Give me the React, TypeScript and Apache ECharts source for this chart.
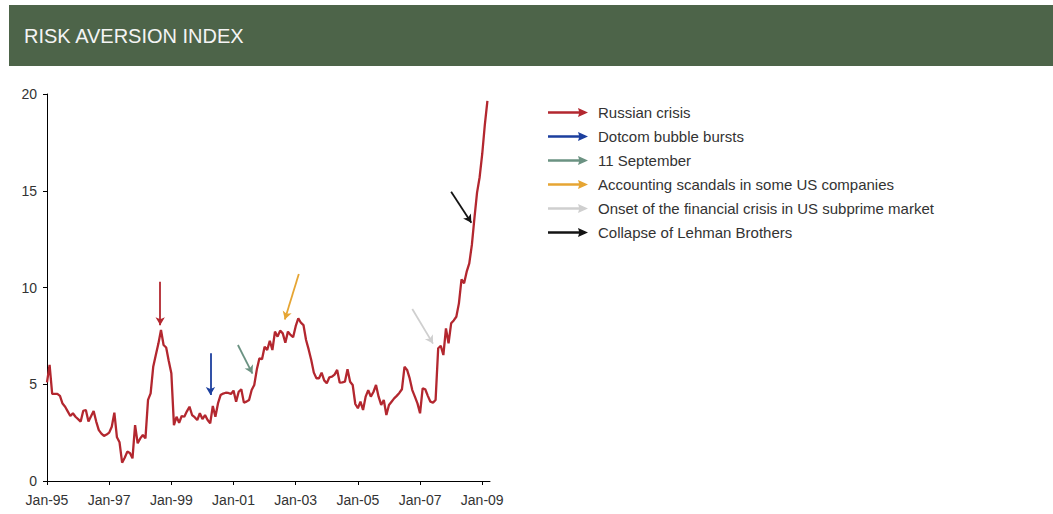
import { useEffect, useRef } from "react";
import * as echarts from "echarts";

// Monthly axis: Jan-95 through Apr-09 (the last slot only pads the axis end)
const MONTH_NAMES = ["Jan", "Feb", "Mar", "Apr", "May", "Jun", "Jul", "Aug", "Sep", "Oct", "Nov", "Dec"];
const START_YEAR = 1995;
const AXIS_MONTHS = 172;
const categories: string[] = [];
for (let i = 0; i < AXIS_MONTHS; i++) {
  const yr = (START_YEAR + Math.floor(i / 12)) % 100;
  categories.push(`${MONTH_NAMES[i % 12]}-${String(yr).padStart(2, "0")}`);
}

// Risk aversion index, monthly from Jan-95 to Mar-09
const riskAversion = [
  5.1, 6.0, 4.5, 4.5, 4.5, 4.4, 4.0, 3.84, 3.6, 3.36, 3.5, 3.32,
  3.2, 3.07, 3.63, 3.67, 3.07, 3.35, 3.62, 3.07, 2.63, 2.45, 2.33, 2.4,
  2.5, 2.8, 3.53, 2.26, 2.0, 0.95, 1.2, 1.52, 1.45, 1.17, 2.89, 1.95,
  2.2, 2.38, 2.2, 4.19, 4.53, 5.9, 6.51, 7.1, 7.8, 7.03, 6.9, 6.2,
  5.57, 2.89, 3.32, 3.01, 3.36, 3.32, 3.6, 3.84, 3.41, 3.3, 3.15, 3.5,
  3.2, 3.41, 3.15, 2.98, 3.88, 3.32, 4.01, 4.44, 4.52, 4.56, 4.55, 4.5,
  4.67, 4.1, 4.61, 4.74, 4.05, 4.1, 4.19, 4.7, 4.96, 5.77, 6.34, 6.29,
  6.94, 6.77, 7.25, 6.77, 7.72, 7.46, 7.77, 7.63, 7.15, 7.72, 7.55, 7.43,
  8.0, 8.41, 8.18, 8.06, 7.29, 6.8, 6.25, 5.6, 5.31, 5.31, 5.6, 5.2,
  5.05, 5.36, 5.39, 5.5, 5.74, 5.08, 5.1, 5.13, 5.77, 5.13, 4.96, 3.98,
  3.76, 4.1, 3.67, 4.36, 4.7, 4.36, 4.6, 4.96, 4.36, 3.93, 4.19, 3.41,
  3.93, 4.1, 4.27, 4.4, 4.55, 4.74, 5.9, 5.74, 5.3, 4.7, 4.36, 4.01,
  3.5, 4.79, 4.74, 4.4, 4.1, 4.05, 4.19, 6.86, 6.98, 6.51, 7.89, 7.12,
  8.15, 8.3, 8.49, 9.18, 10.42, 10.22, 10.82, 11.25, 12.2, 13.6, 14.9, 15.7,
  16.9, 18.4, 19.65,
];

// Annotated events: name, arrow colour, arrow tail and head in (month index, index value)
const eventNames = [
  "Russian crisis",
  "Dotcom bubble bursts",
  "11 September",
  "Accounting scandals in some US companies",
  "Onset of the financial crisis in US subprime market",
  "Collapse of Lehman Brothers",
];
const eventColors = ["#b3272f", "#1c3f9e", "#6b9282", "#e6a533", "#cfcfcf", "#141414"];
const eventTails = [[43.7, 10.3], [63.1, 6.6], [73.7, 7.03], [97.2, 10.7], [141.0, 8.89], [156.0, 14.95]];
const eventHeads = [[43.7, 8.05], [63.1, 4.45], [79.3, 5.55], [91.8, 8.35], [149.0, 7.1], [163.8, 13.35]];

const LINE_COLOR = "#b3272f";
const FONT = "'Liberation Sans', Arial, Helvetica, sans-serif";
const ARROW_ICON = "path://M0,3.2L31,3.2L30,0L40,4.5L30,9L31,5.8L0,5.8Z";

export default function App() {
  const ref = useRef<HTMLDivElement>(null);

  useEffect(() => {
    if (!ref.current) return;
    const chart = echarts.init(ref.current, undefined, { renderer: "svg" });
    const showEveryTwoYears = (index: number) => index % 24 === 0;

    chart.setOption({
      animation: false,
      textStyle: { fontFamily: FONT },
      graphic: [
        {
          type: "rect",
          left: 9,
          top: 5,
          shape: { width: 1044, height: 61 },
          style: { fill: "#4d6449" },
          silent: true,
        },
        {
          type: "text",
          left: 24,
          top: 26,
          style: {
            text: "RISK AVERSION INDEX",
            fill: "#f4f4f4",
            font: `20px ${FONT}`,
          },
          silent: true,
        },
      ],
      legend: {
        orient: "vertical",
        left: 548,
        top: 105,
        padding: 0,
        itemWidth: 40,
        itemHeight: 9,
        itemGap: 9,
        selectedMode: false,
        textStyle: { fontSize: 15, color: "#333333", fontFamily: FONT, padding: [0, 0, 0, 5] },
        data: eventNames.map((name) => ({ name, icon: ARROW_ICON })),
      },
      grid: { left: 47, right: 563, top: 94, bottom: 33, containLabel: false },
      xAxis: [
        {
          type: "category",
          data: categories,
          boundaryGap: false,
          axisLine: { lineStyle: { color: "#000", width: 1 } },
          axisTick: { interval: showEveryTwoYears, length: 4, lineStyle: { color: "#000" } },
          axisLabel: {
            interval: showEveryTwoYears,
            fontSize: 14,
            color: "#333333",
            margin: 12,
            fontFamily: FONT,
          },
          splitLine: { show: false },
        },
        {
          type: "value",
          min: 0,
          max: AXIS_MONTHS - 1,
          show: false,
          splitLine: { show: false },
        },
      ],
      yAxis: {
        type: "value",
        min: 0,
        max: 20,
        interval: 5,
        axisLine: { show: true, lineStyle: { color: "#000", width: 1 } },
        axisTick: { show: true, length: 4, lineStyle: { color: "#000" } },
        axisLabel: { fontSize: 14, color: "#333333", margin: 10, fontFamily: FONT },
        splitLine: { show: false },
      },
      series: [
        {
          name: "Risk aversion index",
          type: "line",
          data: riskAversion,
          symbol: "none",
          lineStyle: { color: LINE_COLOR, width: 2.3 },
          itemStyle: { color: LINE_COLOR },
          silent: true,
        },
        ...eventNames.map((name, i) => ({
          name,
          type: "line",
          xAxisIndex: 1,
          data: [],
          color: eventColors[i],
          itemStyle: { color: eventColors[i] },
          lineStyle: { color: eventColors[i] },
          silent: true,
          markLine: {
            silent: true,
            symbol: ["none", "arrow"],
            symbolSize: [7, 8],
            label: { show: false },
            emphasis: { disabled: true },
            lineStyle: { color: eventColors[i], width: 1.8, type: "solid" },
            data: [[{ coord: eventTails[i] }, { coord: eventHeads[i] }]],
          },
        })),
      ],
    });

    return () => chart.dispose();
  }, []);

  return (
    <div
      ref={ref}
      style={{ position: "fixed", left: 0, top: 0, width: 1053, height: 514, background: "#fff" }}
    />
  );
}
